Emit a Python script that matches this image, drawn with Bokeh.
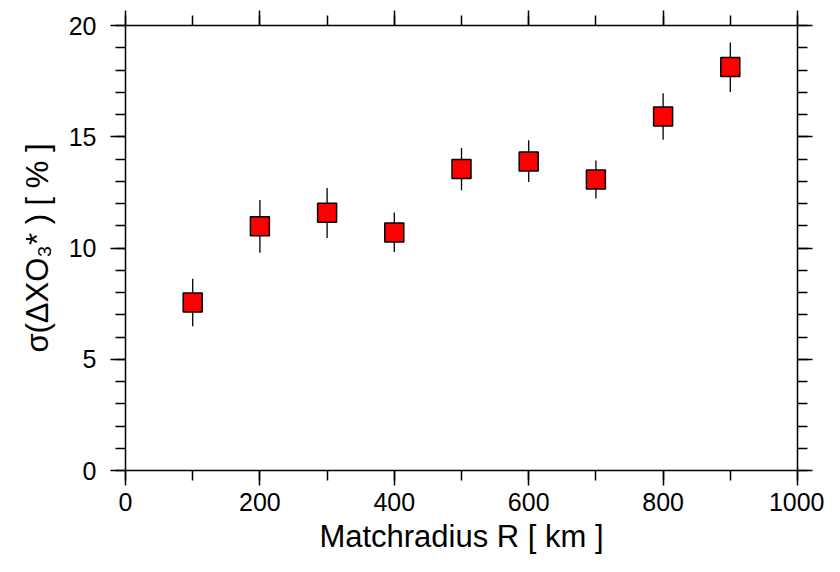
from bokeh.plotting import figure
from bokeh.models import LinearAxis, Range1d, SingleIntervalTicker, ColumnDataSource
from bokeh.embed import file_html
from bokeh.resources import INLINE

# ---- data ----
radius_km = [100, 200, 300, 400, 500, 600, 700, 800, 900]
sigma_pct = [7.55, 10.98, 11.58, 10.70, 13.55, 13.89, 13.08, 15.91, 18.13]
err_upper = [8.62, 12.16, 12.70, 11.59, 14.50, 14.84, 13.93, 16.95, 19.24]
err_lower = [6.48, 9.79, 10.45, 9.82, 12.60, 12.97, 12.22, 14.87, 17.01]
x_major_step = 200
y_major_step = 5
x_title = "Matchradius R [ km ]"
y_title = "σ(ΔXO₃* ) [ % ]"

FONT = "Liberation Sans"

src = ColumnDataSource(dict(x=radius_km, y=sigma_pct, lo=err_lower, hi=err_upper))

p = figure(width=824, height=556, output_backend="svg", toolbar_location=None,
           x_range=Range1d(0, 1000), y_range=Range1d(0, 20),
           x_axis_type=None, y_axis_type=None,
           min_border_left=125, min_border_right=27, min_border_top=25, min_border_bottom=86)
p.outline_line_color = None
p.xgrid.visible = False
p.ygrid.visible = False
p.background_fill_color = "white"
p.border_fill_color = "white"


def style(ax, labels=True, standoff=8):
    ax.axis_line_color = "black"
    ax.axis_line_width = 1.5
    ax.major_tick_line_color = "black"
    ax.major_tick_line_width = 1.5
    ax.minor_tick_line_color = "black"
    ax.minor_tick_line_width = 1.5
    ax.major_tick_out = 15
    ax.major_tick_in = 0
    ax.minor_tick_out = 10
    ax.minor_tick_in = 0
    ax.major_label_text_font = FONT
    ax.major_label_text_color = "black"
    ax.axis_label_text_font = FONT
    ax.axis_label_text_font_style = "normal"
    ax.axis_label_text_color = "black"
    ax.axis_label_text_font_size = "31px"
    if labels:
        ax.major_label_text_font_size = "25px"
        ax.major_label_standoff = standoff
    else:
        ax.major_label_text_font_size = "0px"
        ax.major_label_text_color = None
        ax.major_label_standoff = 0


xb = LinearAxis(ticker=SingleIntervalTicker(interval=x_major_step, num_minor_ticks=2))
xt = LinearAxis(ticker=SingleIntervalTicker(interval=x_major_step, num_minor_ticks=2))
yl = LinearAxis(ticker=SingleIntervalTicker(interval=y_major_step, num_minor_ticks=5))
yr = LinearAxis(ticker=SingleIntervalTicker(interval=y_major_step, num_minor_ticks=5))
style(xb, True, 7)
style(yl, True, 14)
style(xt, False)
style(yr, False)
xb.axis_label = x_title
xb.axis_label_standoff = 5
yl.axis_label = y_title
yl.axis_label_standoff = 11
p.add_layout(xb, "below")
p.add_layout(yl, "left")
p.add_layout(xt, "above")
p.add_layout(yr, "right")

p.segment(x0="x", y0="lo", x1="x", y1="hi", source=src, line_color="black", line_width=1.3)
p.scatter(x="x", y="y", source=src, marker="square", size=19,
          fill_color="#ff0000", line_color="black", line_width=1.5)

open("out.html", "w").write(file_html(p, INLINE))
